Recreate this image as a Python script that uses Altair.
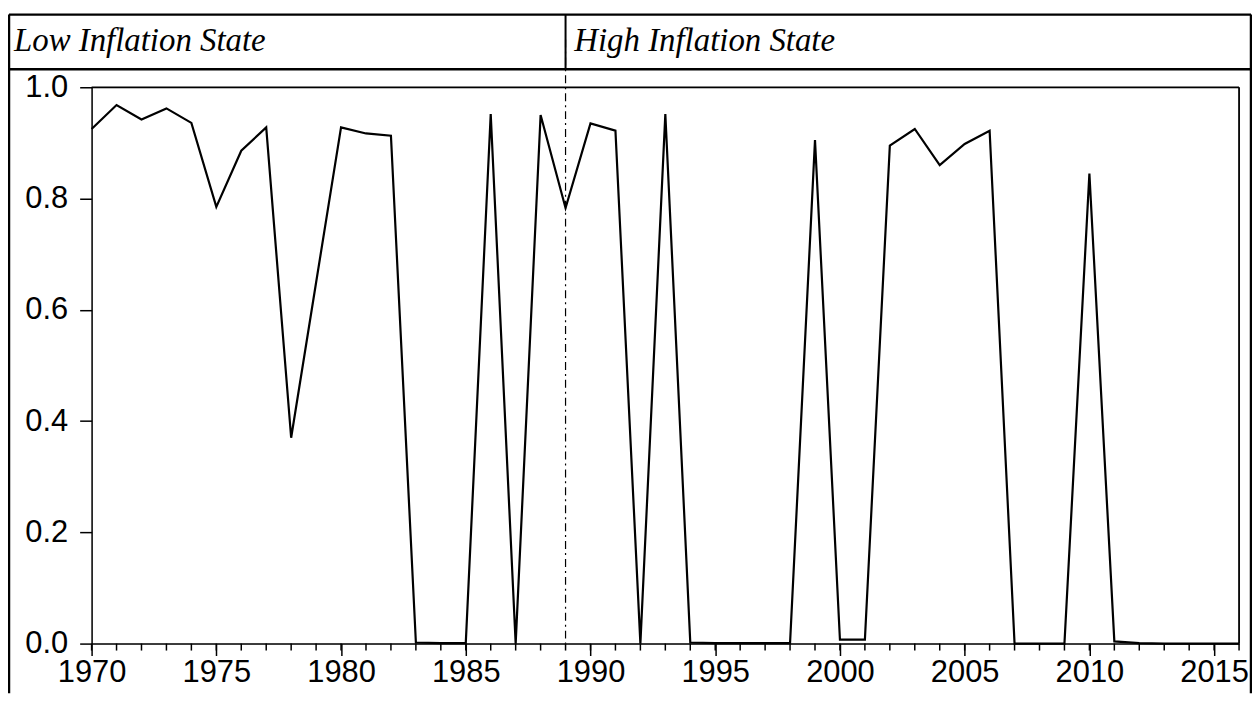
import altair as alt
import pandas as pd

years = list(range(1970, 2017))
prob_low = [0.925, 0.968, 0.942, 0.962, 0.936, 0.785, 0.886, 0.928, 0.370, 0.649,
            0.928, 0.917, 0.913, 0.002, 0.001, 0.001, 0.952, 0.000, 0.950, 0.783,
            0.935, 0.922, 0.000, 0.952, 0.002, 0.001, 0.001, 0.001, 0.001, 0.905,
            0.007, 0.007, 0.895, 0.925, 0.860, 0.898, 0.922, 0.000, 0.000, 0.000,
            0.845, 0.004, 0.001, 0.000, 0.000, 0.000, 0.000]
major_years = [1970, 1975, 1980, 1985, 1990, 1995, 2000, 2005, 2010, 2015]
y_ticks = [0.0, 0.2, 0.4, 0.6, 0.8, 1.0]
state_labels = ["Low Inflation State", "High Inflation State"]
switch_year = [1989]

W, H = 1153, 559
df = pd.DataFrame({"year": years, "p": prob_low})

xscale = alt.Scale(domain=[1970, 2016], nice=False, zero=False)
yscale = alt.Scale(domain=[0, 1], nice=False)

line = alt.Chart(df).mark_line(color="black", strokeWidth=2.2).encode(
    x=alt.X("year:Q", scale=xscale,
            axis=alt.Axis(values=major_years, format="d", title=None, tickSize=12,
                          labelPadding=2, labelFont="Liberation Sans", labelFontSize=31,
                          labelColor="black", domainColor="black", tickColor="black",
                          domainWidth=1.5, tickWidth=1.5, grid=False, labelFlush=False)),
    y=alt.Y("p:Q", scale=yscale,
            axis=alt.Axis(values=y_ticks, format=".1f", title=None, tickSize=12,
                          labelPadding=12, labelFont="Liberation Sans", labelFontSize=31,
                          labelColor="black", domainColor="black", tickColor="black",
                          domainWidth=1.5, tickWidth=1.5, grid=False)),
)

minor = alt.Chart(pd.DataFrame({"year": years})).mark_rule(color="black", strokeWidth=1.5).encode(
    x=alt.X("year:Q", scale=xscale),
    y=alt.value(H),
    y2=alt.value(H + 7),
)

box_h = alt.Chart(pd.DataFrame({"yy": [0]})).mark_rule(color="black", strokeWidth=1.8).encode(
    x=alt.value(0), x2=alt.value(W), y=alt.Y("yy:Q", scale=None),
)
box_v = alt.Chart(pd.DataFrame({"xx": [W]})).mark_rule(color="black", strokeWidth=1.8).encode(
    x=alt.X("xx:Q", scale=None), y=alt.value(0), y2=alt.value(H),
)

switch = alt.Chart(pd.DataFrame({"year": switch_year})).mark_rule(
    color="black", strokeWidth=1.2, strokeDash=[8, 4, 2, 4]).encode(
    x=alt.X("year:Q", scale=xscale),
    y=alt.value(-48),
    y2=alt.value(H),
)

divider = alt.Chart(pd.DataFrame({"year": switch_year})).mark_rule(
    color="black", strokeWidth=2).encode(
    x=alt.X("year:Q", scale=xscale),
    y=alt.value(-73),
    y2=alt.value(-18),
)

frame_h = alt.Chart(pd.DataFrame({"yy": [-73, -18]})).mark_rule(color="black", strokeWidth=2.5).encode(
    x=alt.value(-83), x2=alt.value(W + 12), y=alt.Y("yy:Q", scale=None),
)
frame_v = alt.Chart(pd.DataFrame({"xx": [-83, W + 12]})).mark_rule(color="black", strokeWidth=2.5).encode(
    x=alt.X("xx:Q", scale=None), y=alt.value(-73), y2=alt.value(H + 50),
)

header = alt.Chart(pd.DataFrame({"label": state_labels, "xx": [-78, 485]})).mark_text(
    font="Liberation Serif", fontStyle="italic", fontSize=33, align="left",
    baseline="middle", color="black").encode(
    x=alt.X("xx:Q", scale=None), y=alt.value(-46), text="label:N",
)

chart = alt.layer(line, minor, box_h, box_v, switch, divider, frame_h, frame_v, header).properties(
    width=W, height=H,
    padding={"left": 84, "top": 78, "right": 13, "bottom": 50},
    autosize=alt.AutoSizeParams(type="none"),
).configure_view(stroke="black", strokeWidth=1.5).configure(background="white")

chart.save("out.html", embed_options={"renderer": "svg", "actions": False})
